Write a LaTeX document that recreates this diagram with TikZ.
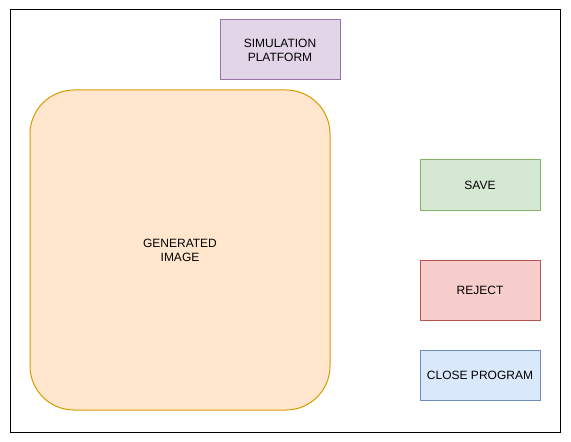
\documentclass[tikz,border=0pt]{standalone}
\usepackage{fontspec}
\setmainfont{Liberation Sans}
\definecolor{simfill}{HTML}{E1D5E7}
\definecolor{simline}{HTML}{9673A6}
\definecolor{imgfill}{HTML}{FFE6CC}
\definecolor{imgline}{HTML}{D79B00}
\definecolor{savefill}{HTML}{D5E8D4}
\definecolor{saveline}{HTML}{82B366}
\definecolor{rejfill}{HTML}{F8CECC}
\definecolor{rejline}{HTML}{B85450}
\definecolor{closefill}{HTML}{DAE8FC}
\definecolor{closeline}{HTML}{6C8EBF}
\tikzset{
  box/.style={draw, rectangle, minimum width=90pt, minimum height=37.5pt,
    align=center, inner sep=0pt, font=\fontsize{9}{10.5}\selectfont, line width=0.75pt},
}
\begin{document}
\begin{tikzpicture}[x=0.75pt,y=-0.75pt]
    \useasboundingbox (0,0) rectangle (571,442);
    \draw[black, line width=0.75pt] (10,10) rectangle (560,432);
    % top box
    \node[box, fill=simfill, draw=simline, minimum height=45pt] (platform) at (280,50) {SIMULATION\\PLATFORM};
    % big image
    \node[box, fill=imgfill, draw=imgline, rounded corners=33pt,
          minimum width=225pt, minimum height=240pt] (image) at (180,250) {GENERATED\\IMAGE};
    % buttons
    \node[box, fill=savefill, draw=saveline] (save) at (480,185) {SAVE};
    \node[box, fill=rejfill, draw=rejline, minimum height=45pt] (reject) at (480,290) {REJECT};
    \node[box, fill=closefill, draw=closeline] (close) at (480,375) {CLOSE PROGRAM};
\end{tikzpicture}
\end{document}
